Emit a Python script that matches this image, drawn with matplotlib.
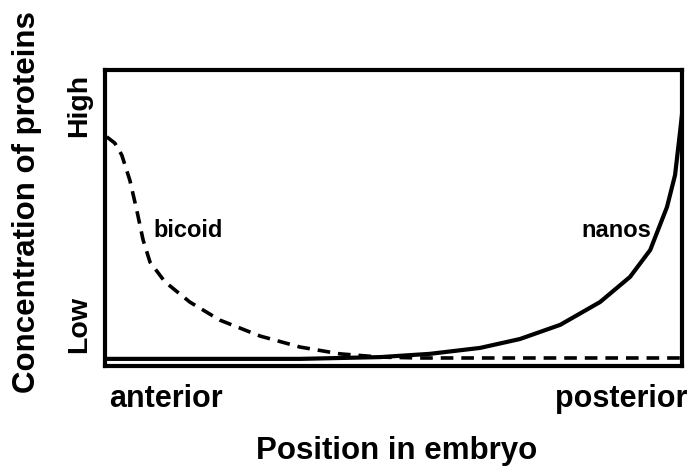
import matplotlib
matplotlib.use('Agg')
import matplotlib.pyplot as plt

plt.rcParams['font.family'] = ['Liberation Sans', 'DejaVu Sans']
plt.rcParams['font.weight'] = 'bold'

# Position along embryo (0 = anterior, 1 = posterior) and relative concentration
bicoid_x = [0.003, 0.017, 0.029, 0.043, 0.055, 0.066, 0.078, 0.104, 0.147,
            0.199, 0.269, 0.338, 0.407, 0.477, 0.546, 1.0]
bicoid_y = [0.774, 0.753, 0.713, 0.628, 0.527, 0.426, 0.351, 0.284, 0.216,
            0.155, 0.101, 0.064, 0.041, 0.030, 0.027, 0.027]

nanos_x = [0.0, 0.338, 0.477, 0.563, 0.650, 0.719, 0.789, 0.858, 0.910,
           0.945, 0.974, 0.988, 0.997, 1.0]
nanos_y = [0.024, 0.024, 0.030, 0.041, 0.061, 0.091, 0.139, 0.216, 0.301,
           0.392, 0.537, 0.645, 0.797, 0.85]

fig = plt.figure(figsize=(6.93, 4.68), dpi=100)
ax = fig.add_axes([0.1515, 0.218, 0.8326, 0.6325])

ax.plot(bicoid_x, bicoid_y, color='black', lw=2.6, dashes=(3.5, 2.2))
ax.plot(nanos_x, nanos_y, color='black', lw=3)

ax.set_xlim(0, 1)
ax.set_ylim(0, 1)
ax.set_xticks([])
ax.set_yticks([])
for s in ax.spines.values():
    s.set_linewidth(3)

ax.text(0.144, 0.459, 'bicoid', transform=ax.transAxes, fontsize=17,
        ha='center', va='center')
ax.text(0.887, 0.459, 'nanos', transform=ax.transAxes, fontsize=17,
        ha='center', va='center')

ax.text(-0.045, 0.88, 'High', transform=ax.transAxes, fontsize=20.5,
        rotation=90, ha='center', va='center')
ax.text(-0.045, 0.14, 'Low', transform=ax.transAxes, fontsize=20.5,
        rotation=90, ha='center', va='center')
ax.text(-0.135, 0.554, 'Concentration of proteins', transform=ax.transAxes,
        fontsize=22.5, rotation=90, ha='center', va='center')

ax.text(0.106, -0.113, 'anterior', transform=ax.transAxes, fontsize=22,
        ha='center', va='center')
ax.text(0.894, -0.113, 'posterior', transform=ax.transAxes, fontsize=22,
        ha='center', va='center')
ax.text(0.505, -0.287, 'Position in embryo', transform=ax.transAxes,
        fontsize=22.5, ha='center', va='center')

fig.savefig('out.png', dpi=100)
